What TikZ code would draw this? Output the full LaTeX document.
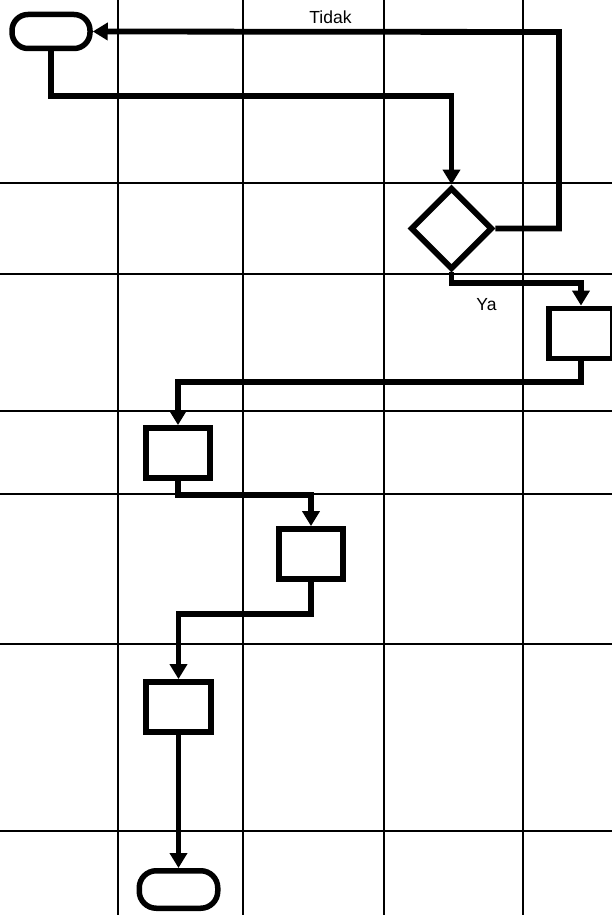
\documentclass[tikz,border=0pt]{standalone}
\usepackage{fontspec}
\setmainfont{Liberation Sans}
\usetikzlibrary{shapes.geometric,arrows.meta}
\begin{document}
\begin{tikzpicture}[x=1pt,y=-1pt,
  grid/.style={line width=2pt,black},
  conn/.style={line width=5.8pt,black,line join=miter},
  arr/.style={conn,-{Triangle[length=15pt,width=17pt]}},
  term/.style={draw,line width=5.5pt,fill=white,rounded corners=16pt,inner sep=0pt,minimum width=78pt,minimum height=34pt},
  procbox/.style={draw,line width=5.8pt,fill=white,inner sep=0pt,minimum width=64.5pt,minimum height=50pt},
  decis/.style={draw,diamond,line width=5.8pt,fill=white,inner sep=0pt,minimum width=82pt,minimum height=82pt},
  lbl/.style={font=\fontsize{17.5}{20}\selectfont,inner sep=0pt}]
\useasboundingbox (0,0) rectangle (612,915);
\clip (0,0) rectangle (612,915);
% grid
\foreach \gx in {118,243,384,523} \draw[grid] (\gx,0) -- (\gx,915);
\foreach \gy in {183,274,411,494,644,831} \draw[grid] (0,\gy) -- (612,\gy);
% nodes
\node[term] (t1) at (51,31.5) {};
\node[decis] (d) at (451.5,228.5) {};
\node[procbox] (b1) at (581,333.5) {};
\node[procbox] (b2) at (178,453) {};
\node[procbox] (b3) at (311,554) {};
\node[procbox] (b4) at (178.5,707) {};
\node[term,minimum width=78.5pt,minimum height=37.5pt,rounded corners=17pt] (t2) at (178.5,889.5) {};
% labels
\node[lbl] (tidak) at (330.5,17.5) {Tidak};
\node[lbl] (ya) at (486.5,304.5) {Ya};
% connectors
\coordinate (c1a) at (51,96);
\coordinate (c1b) at (451.5,96);
\draw[arr] (t1.south) -- (c1a) -- (c1b) -- (d.north);
\coordinate (c2a) at (559,228.5);
\coordinate (c2b) at (559,32);
\draw[arr] (d.east) -- (c2a) -- (c2b) -- (t1.east);
\coordinate (c3a) at (451.5,283);
\coordinate (c3b) at (581,283);
\draw[arr] (d.south) -- (c3a) -- (c3b) -- (b1.north);
\coordinate (c4a) at (581,382);
\coordinate (c4b) at (178,382);
\draw[arr] (b1.south) -- (c4a) -- (c4b) -- (b2.north);
\coordinate (c5a) at (178,495);
\coordinate (c5b) at (311,495);
\draw[arr] (b2.south) -- (c5a) -- (c5b) -- (b3.north);
\coordinate (c6a) at (311,614);
\coordinate (c6b) at (178.5,614);
\draw[arr] (b3.south) -- (c6a) -- (c6b) -- (b4.north);
\draw[arr] (b4.south) -- (t2.north);
\end{tikzpicture}
\end{document}
